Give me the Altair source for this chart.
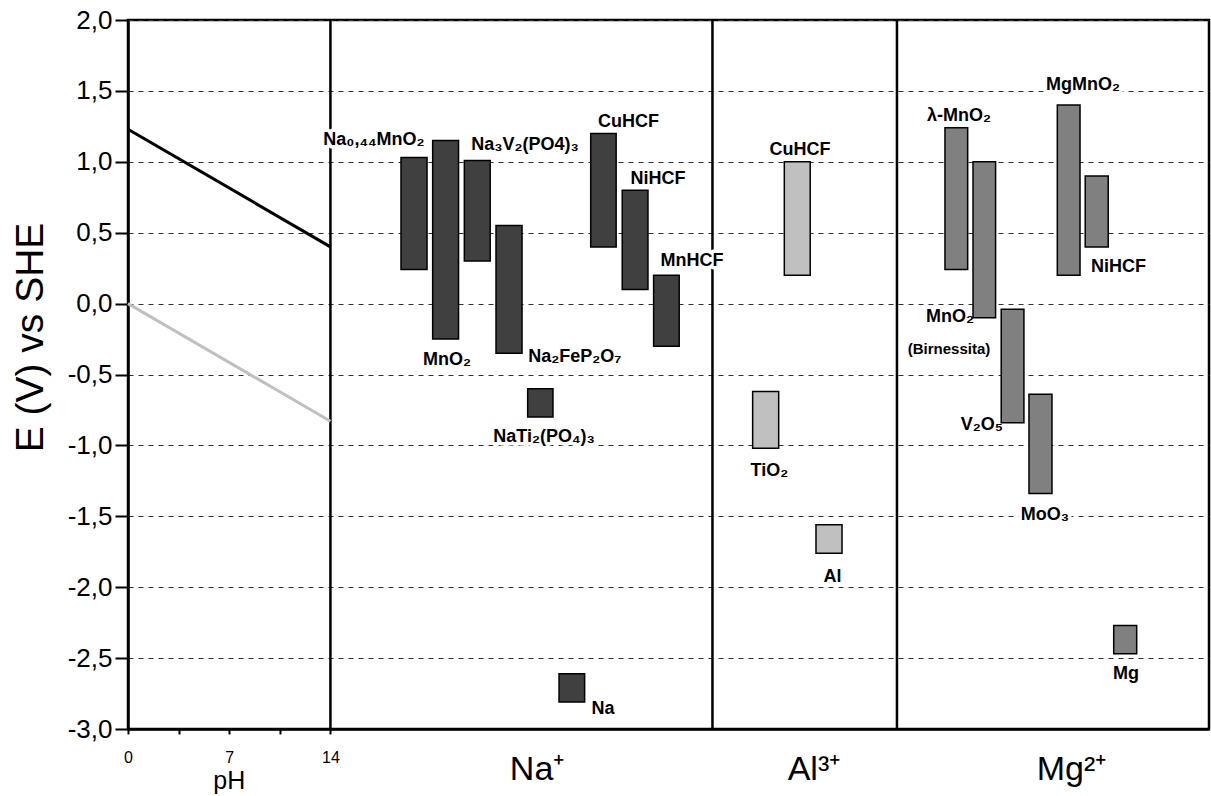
import altair as alt
import pandas as pd

# ---------------- data ----------------
# bars: name, group, left/right (x units, pH scale extended), top/bottom potential (V vs SHE)
bar_group = ["Na"] * 9 + ["Al"] * 3 + ["Mg"] * 7
bar_name = ["Na0,44MnO2", "MnO2", "Na3V2(PO4)3", "Na2FeP2O7", "NaTi2(PO4)3", "Na",
            "CuHCF", "NiHCF", "MnHCF",
            "TiO2", "CuHCF", "Al",
            "l-MnO2", "MnO2 Birnessita", "V2O5", "MoO3", "MgMnO2", "NiHCF", "Mg"]
bar_left = [18.88, 21.07, 23.26, 25.45, 27.64, 29.81, 32.00, 34.18, 36.35,
            43.20, 45.39, 47.58,
            56.50, 58.44, 60.39, 62.31, 64.27, 66.20, 68.17]
bar_right = [20.68, 22.86, 25.05, 27.25, 29.39, 31.58, 33.76, 35.96, 38.12,
             45.00, 47.18, 49.38,
             58.07, 60.00, 61.96, 63.90, 65.84, 67.79, 69.76]
bar_top = [1.03, 1.15, 1.01, 0.55, -0.60, -2.61, 1.20, 0.80, 0.20,
           -0.62, 1.00, -1.56,
           1.24, 1.00, -0.04, -0.64, 1.40, 0.90, -2.27]
bar_bottom = [0.24, -0.25, 0.30, -0.35, -0.80, -2.81, 0.40, 0.10, -0.30,
              -1.02, 0.20, -1.76,
              0.24, -0.10, -0.84, -1.34, 0.20, 0.40, -2.47]

# labels of the electrodes
lab_text = ["Na₀,₄₄MnO₂", "MnO₂", "Na₃V₂(PO4)₃", "Na₂FeP₂O₇", "NaTi₂(PO₄)₃", "Na",
            "CuHCF", "NiHCF", "MnHCF",
            "TiO₂", "CuHCF", "Al",
            "λ-MnO₂", "MnO₂", "V₂O₅", "MoO₃", "MgMnO₂", "NiHCF", "Mg"]
lab_x = [17.01, 22.06, 27.46, 30.91, 28.77, 32.85, 34.61, 36.65, 39.00,
         44.36, 46.47, 48.73,
         57.47, 56.85, 59.06, 63.42, 66.04, 68.50, 69.02]
lab_y = [1.122, -0.430, 1.082, -0.409, -0.974, -2.896, 1.247, 0.845, 0.263,
         -1.219, 1.047, -1.960,
         1.287, -0.132, -0.889, -1.524, 1.503, 0.221, -2.649]
small_text = ["(Birnessita)"]
small_x = [56.78]
small_y = [-0.353]

# water stability lines vs pH
ph_vals = [0, 14]
o2_line = [1.23, 0.40]
h2_line = [0.00, -0.83]

# separators between sections
sep_x = [14.0, 40.42, 53.18]

# section labels
cat_text = ["Na⁺", "Al³⁺", "Mg²⁺"]
cat_x = [28.29, 47.44, 65.25]
cat_y = [-3.36, -3.36, -3.36]
ph_title_x = [7]
ph_title_y = [-3.425]

y_ticks = [-3.0, -2.5, -2.0, -1.5, -1.0, -0.5, 0.0, 0.5, 1.0, 1.5, 2.0]
x_ticks = [0, 3.5, 7, 10.5, 14]

# ---------------- chart ----------------
FONT = "Liberation Sans"
xs = alt.Scale(domain=[0, 74.76], nice=False, zero=False)
ys = alt.Scale(domain=[-3, 2], nice=False, zero=False)

xaxis = alt.Axis(values=x_ticks, grid=False, title="",
                 labelExpr="datum.value % 7 == 0 ? format(datum.value, 'd') : ''",
                 labelFlush=False, labelOverlap=False,
                 tickSize=5, tickWidth=2, tickColor="black",
                 domainColor="black", domainWidth=2.5,
                 labelFont=FONT, labelFontSize=16, labelColor="black", labelPadding=15)
yaxis = alt.Axis(values=y_ticks, grid=True, gridDash=[5, 5], gridColor="#333333", gridWidth=1,
                 labelExpr="replace(replace(format(datum.value, '.1f'), '.', ','), '\u2212', '-')",
                 labelFlush=False, labelOverlap=False,
                 tickSize=13, tickWidth=2, tickColor="black",
                 domainColor="black", domainWidth=2.5,
                 labelFont=FONT, labelFontSize=26, labelColor="black", labelPadding=3,
                 title="E (V) vs SHE", titleFont=FONT, titleFontSize=39,
                 titleFontWeight="normal", titleColor="black",
                 titleAngle=270, titleBaseline="alphabetic", titleAlign="center",
                 titleX=-86, titleY=317)


def X(field, **kw):
    return alt.X(field, type="quantitative", scale=xs, axis=xaxis, **kw)


def Y(field, **kw):
    return alt.Y(field, type="quantitative", scale=ys, axis=yaxis, **kw)


bars = pd.DataFrame({"name": bar_name, "group": bar_group, "x0": bar_left, "x1": bar_right,
                     "top": bar_top, "bottom": bar_bottom})
labels = pd.DataFrame({"t": lab_text, "x": lab_x, "y": lab_y})
small = pd.DataFrame({"t": small_text, "x": small_x, "y": small_y})
lines_o2 = pd.DataFrame({"x": ph_vals, "y": o2_line})
lines_h2 = pd.DataFrame({"x": ph_vals, "y": h2_line})
seps = pd.DataFrame({"x": sep_x})
cats = pd.DataFrame({"t": cat_text, "x": cat_x, "y": cat_y})
phlab = pd.DataFrame({"t": ["pH"], "x": ph_title_x, "y": ph_title_y})

LAB_FS = 18

sep_layer = alt.Chart(seps).mark_rule(color="black", strokeWidth=2.5).encode(x=X("x"))

o2_layer = alt.Chart(lines_o2).mark_line(color="black", strokeWidth=3).encode(x=X("x"), y=Y("y"))
h2_layer = alt.Chart(lines_h2).mark_line(color="#c0c0c0", strokeWidth=3).encode(x=X("x"), y=Y("y"))

halo = alt.Chart(labels).mark_text(font=FONT, fontSize=LAB_FS, fontWeight="bold", align="center",
                                   baseline="alphabetic", stroke="white", strokeWidth=7,
                                   strokeJoin="round", fill="white").encode(
    x=X("x"), y=Y("y"), text="t:N")
halo_small = alt.Chart(small).mark_text(font=FONT, fontSize=15, fontWeight="bold", align="center",
                                        baseline="alphabetic", stroke="white", strokeWidth=7,
                                        strokeJoin="round", fill="white").encode(
    x=X("x"), y=Y("y"), text="t:N")

bar_layer = alt.Chart(bars).mark_rect(stroke="black", strokeWidth=1.5).encode(
    x=X("x0"), x2="x1", y=Y("top"), y2="bottom",
    color=alt.Color("group:N", scale=alt.Scale(domain=["Na", "Al", "Mg"],
                                               range=["#404040", "#c0c0c0", "#808080"]),
                    legend=None))

text_layer = alt.Chart(labels).mark_text(font=FONT, fontSize=LAB_FS, fontWeight="bold", align="center",
                                         baseline="alphabetic", color="black").encode(
    x=X("x"), y=Y("y"), text="t:N")
small_layer = alt.Chart(small).mark_text(font=FONT, fontSize=15, fontWeight="bold", align="center",
                                         baseline="alphabetic", color="black").encode(
    x=X("x"), y=Y("y"), text="t:N")

cat_layer = alt.Chart(cats).mark_text(font=FONT, fontSize=34, align="center",
                                      baseline="alphabetic", color="black").encode(
    x=X("x"), y=Y("y"), text="t:N")
ph_layer = alt.Chart(phlab).mark_text(font=FONT, fontSize=25, align="center",
                                      baseline="alphabetic", color="black").encode(
    x=X("x"), y=Y("y"), text="t:N")

chart = alt.layer(sep_layer, o2_layer, h2_layer, halo, halo_small, bar_layer,
                  text_layer, small_layer, cat_layer, ph_layer).properties(
    width=1081, height=709,
    autosize=alt.AutoSizeParams(type="none"),
    padding={"left": 128, "top": 20, "right": 2, "bottom": 67},
    background="white",
).configure_view(stroke="black", strokeWidth=2.5)

chart.save("out.html", embed_options={"renderer": "svg", "actions": False})
